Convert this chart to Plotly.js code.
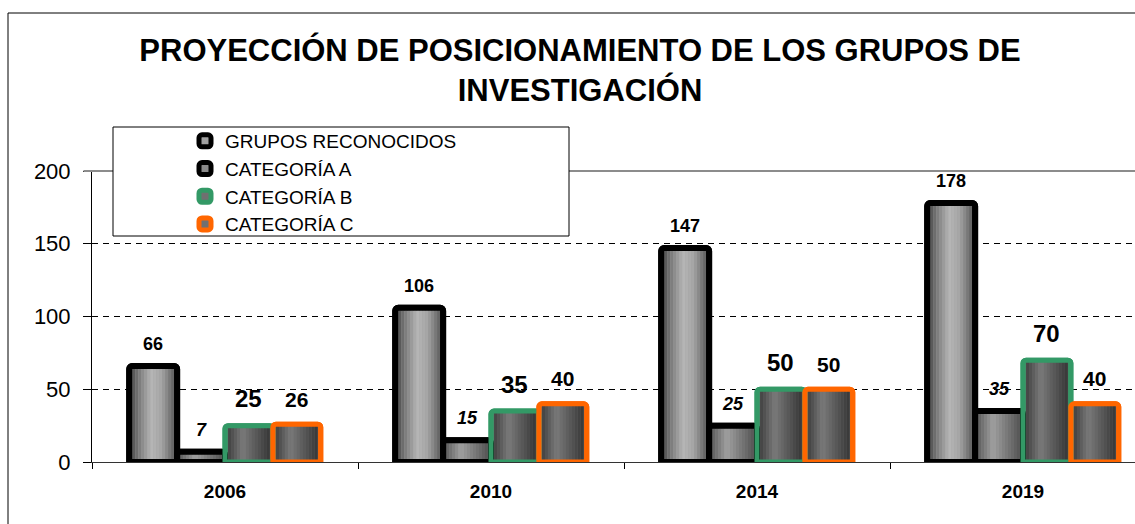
<!DOCTYPE html>
<html>
<head>
<meta charset="utf-8">
<script src="https://cdn.plot.ly/plotly-3.0.1.min.js"></script>
<style>
  html, body { margin: 0; padding: 0; overflow: hidden; background: #fff; }
  #chart { width: 1176px; height: 540px; }
</style>
</head>
<body>
<div id="chart"></div>
<script>
// ---- data ----
const categories = ['2006', '2010', '2014', '2019'];
const grupos = [66, 106, 147, 178];
const catA = [7, 15, 25, 35];
const catB = [25, 35, 50, 70];
const catC = [26, 40, 50, 40];
const seriesNames = ['GRUPOS RECONOCIDOS', 'CATEGORÍA A', 'CATEGORÍA B', 'CATEGORÍA C'];
const yTicks = [0, 50, 100, 150, 200];
const chartTitle = 'PROYECCIÓN DE POSICIONAMIENTO DE LOS GRUPOS DE<br>INVESTIGACIÓN';

// ---- style ----
const seriesValues = [grupos, catA, catB, catC];
const borderColors = ['#000000', '#000000', '#339966', '#FF6600'];
const borderWidths = [6, 6, 5, 5];
const gradStops = [
  [[0, 80], [0.15, 120], [0.45, 182], [0.7, 165], [1, 95]],
  [[0, 95], [0.35, 160], [1, 85]],
  [[0, 65], [0.35, 122], [1, 55]],
  [[0, 65], [0.35, 122], [1, 55]]
];
const legendFill = ['#a0a0a0', '#8a8a8a', '#707070', '#707070'];
const labelSizes = [18, 18, 24, 21];
const labelItalic = [false, true, false, false];
const labelShift = [22, 22, 27, 25];

const bw = 0.18;           // bar width (category units)
const startOff = -2 * bw;  // first bar offset
const inset = 0.0115;      // inside border
const nStrips = 14;

function gradAt(stops, t) {
  for (let i = 0; i < stops.length - 1; i++) {
    const a = stops[i], b = stops[i + 1];
    if (t >= a[0] && t <= b[0]) {
      const f = (t - a[0]) / (b[0] - a[0]);
      return Math.round(a[1] + f * (b[1] - a[1]));
    }
  }
  return stops[stops.length - 1][1];
}
const grey = v => `rgb(${v},${v},${v})`;

const traces = [];
// legend / base traces
seriesValues.forEach((vals, s) => {
  traces.push({
    type: 'bar', name: seriesNames[s], x: categories, y: vals,
    width: bw, offset: startOff + s * bw,
    marker: { color: legendFill[s], line: { color: borderColors[s], width: borderWidths[s] }, cornerradius: 3 },
    hoverinfo: 'skip', showlegend: true
  });
});
// gradient strips
seriesValues.forEach((vals, s) => {
  const inner = bw - 2 * inset;
  const sw = inner / nStrips;
  for (let k = 0; k < nStrips; k++) {
    const t = (k + 0.5) / nStrips;
    traces.push({
      type: 'bar', x: categories, y: vals,
      width: sw * 1.02, offset: startOff + s * bw + inset + k * sw,
      marker: { color: grey(gradAt(gradStops[s], t)), line: { width: 0 } },
      hoverinfo: 'skip', showlegend: false
    });
  }
});
// border overlay
seriesValues.forEach((vals, s) => {
  traces.push({
    type: 'bar', x: categories, y: vals,
    width: bw, offset: startOff + s * bw,
    marker: { color: 'rgba(0,0,0,0)', line: { color: borderColors[s], width: borderWidths[s] }, cornerradius: 3 },
    hoverinfo: 'skip', showlegend: false
  });
});

// value labels
const annotations = [];
seriesValues.forEach((vals, s) => {
  vals.forEach((v, i) => {
    annotations.push({
      x: i + startOff + s * bw + bw / 2, y: v, xref: 'x', yref: 'y',
      text: labelItalic[s] ? '<b><i>' + v + '</i></b>' : '<b>' + v + '</b>',
      showarrow: false, yanchor: 'middle', yshift: labelShift[s],
      font: { family: 'Arial, "Liberation Sans", sans-serif', size: labelSizes[s], color: '#000' }
    });
  });
});

const plotW = 1064;
const pxX = px => (px - 92) / plotW;
const pxY = py => (462 - py) / 291;

const layout = {
  width: 1176, height: 540,
  margin: { l: 92, r: 20, t: 171, b: 78 },
  paper_bgcolor: '#ffffff', plot_bgcolor: '#ffffff',
  barmode: 'overlay',
  font: { family: 'Arial, "Liberation Sans", sans-serif', color: '#000' },
  title: {
    text: '<b>' + chartTitle + '</b>',
    font: { family: 'Arial, "Liberation Sans", sans-serif', size: 31, color: '#000' },
    x: 580 / 1176, xref: 'container', xanchor: 'center',
    y: 1 - 61 / 540, yref: 'container', yanchor: 'middle'
  },
  xaxis: {
    type: 'category', range: [-0.5, 3.5], fixedrange: true,
    tickson: 'boundaries', ticks: 'outside', ticklen: 6, tickcolor: '#000', tickwidth: 1,
    showline: true, linecolor: '#333', linewidth: 1,
    showgrid: false, zeroline: false,
    tickfont: { family: 'Arial, "Liberation Sans", sans-serif', size: 19, color: '#000', weight: 'bold' },
    ticklabelstandoff: 12
  },
  yaxis: {
    range: [0, 200], tickvals: yTicks, ticktext: yTicks.map(String), fixedrange: true,
    ticks: 'outside', ticklen: 8, tickcolor: '#000', tickwidth: 1,
    showline: true, linecolor: '#000', linewidth: 1,
    showgrid: true, gridcolor: '#000', gridwidth: 1, griddash: '6px,5px',
    zeroline: false,
    tickfont: { family: 'Arial, "Liberation Sans", sans-serif', size: 22, color: '#000' },
    ticklabelstandoff: 8
  },
  legend: {
    x: pxX(185), xanchor: 'left', y: pxY(122), yanchor: 'top',
    bgcolor: 'rgba(0,0,0,0)', borderwidth: 0,
    font: { family: 'Arial, "Liberation Sans", sans-serif', size: 19, color: '#000' },
    traceorder: 'normal'
  },
  shapes: [
    { type: 'line', xref: 'paper', yref: 'paper', x0: -0.008, x1: 1.05, y0: 1, y1: 1,
      line: { color: '#8c8c8c', width: 2 }, layer: 'above' },
    { type: 'rect', xref: 'paper', yref: 'paper', x0: pxX(113), x1: pxX(569), y0: pxY(236), y1: pxY(127),
      fillcolor: '#ffffff', line: { color: '#000', width: 1 }, layer: 'above' },
    { type: 'rect', xref: 'paper', yref: 'paper', x0: pxX(8), x1: pxX(1170), y0: pxY(535), y1: pxY(13),
      fillcolor: 'rgba(0,0,0,0)', line: { color: '#000', width: 1 }, layer: 'above' }
  ],
  annotations: annotations,
  showlegend: true
};

Plotly.newPlot('chart', traces, layout, { displayModeBar: false, staticPlot: true });
</script>
</body>
</html>
